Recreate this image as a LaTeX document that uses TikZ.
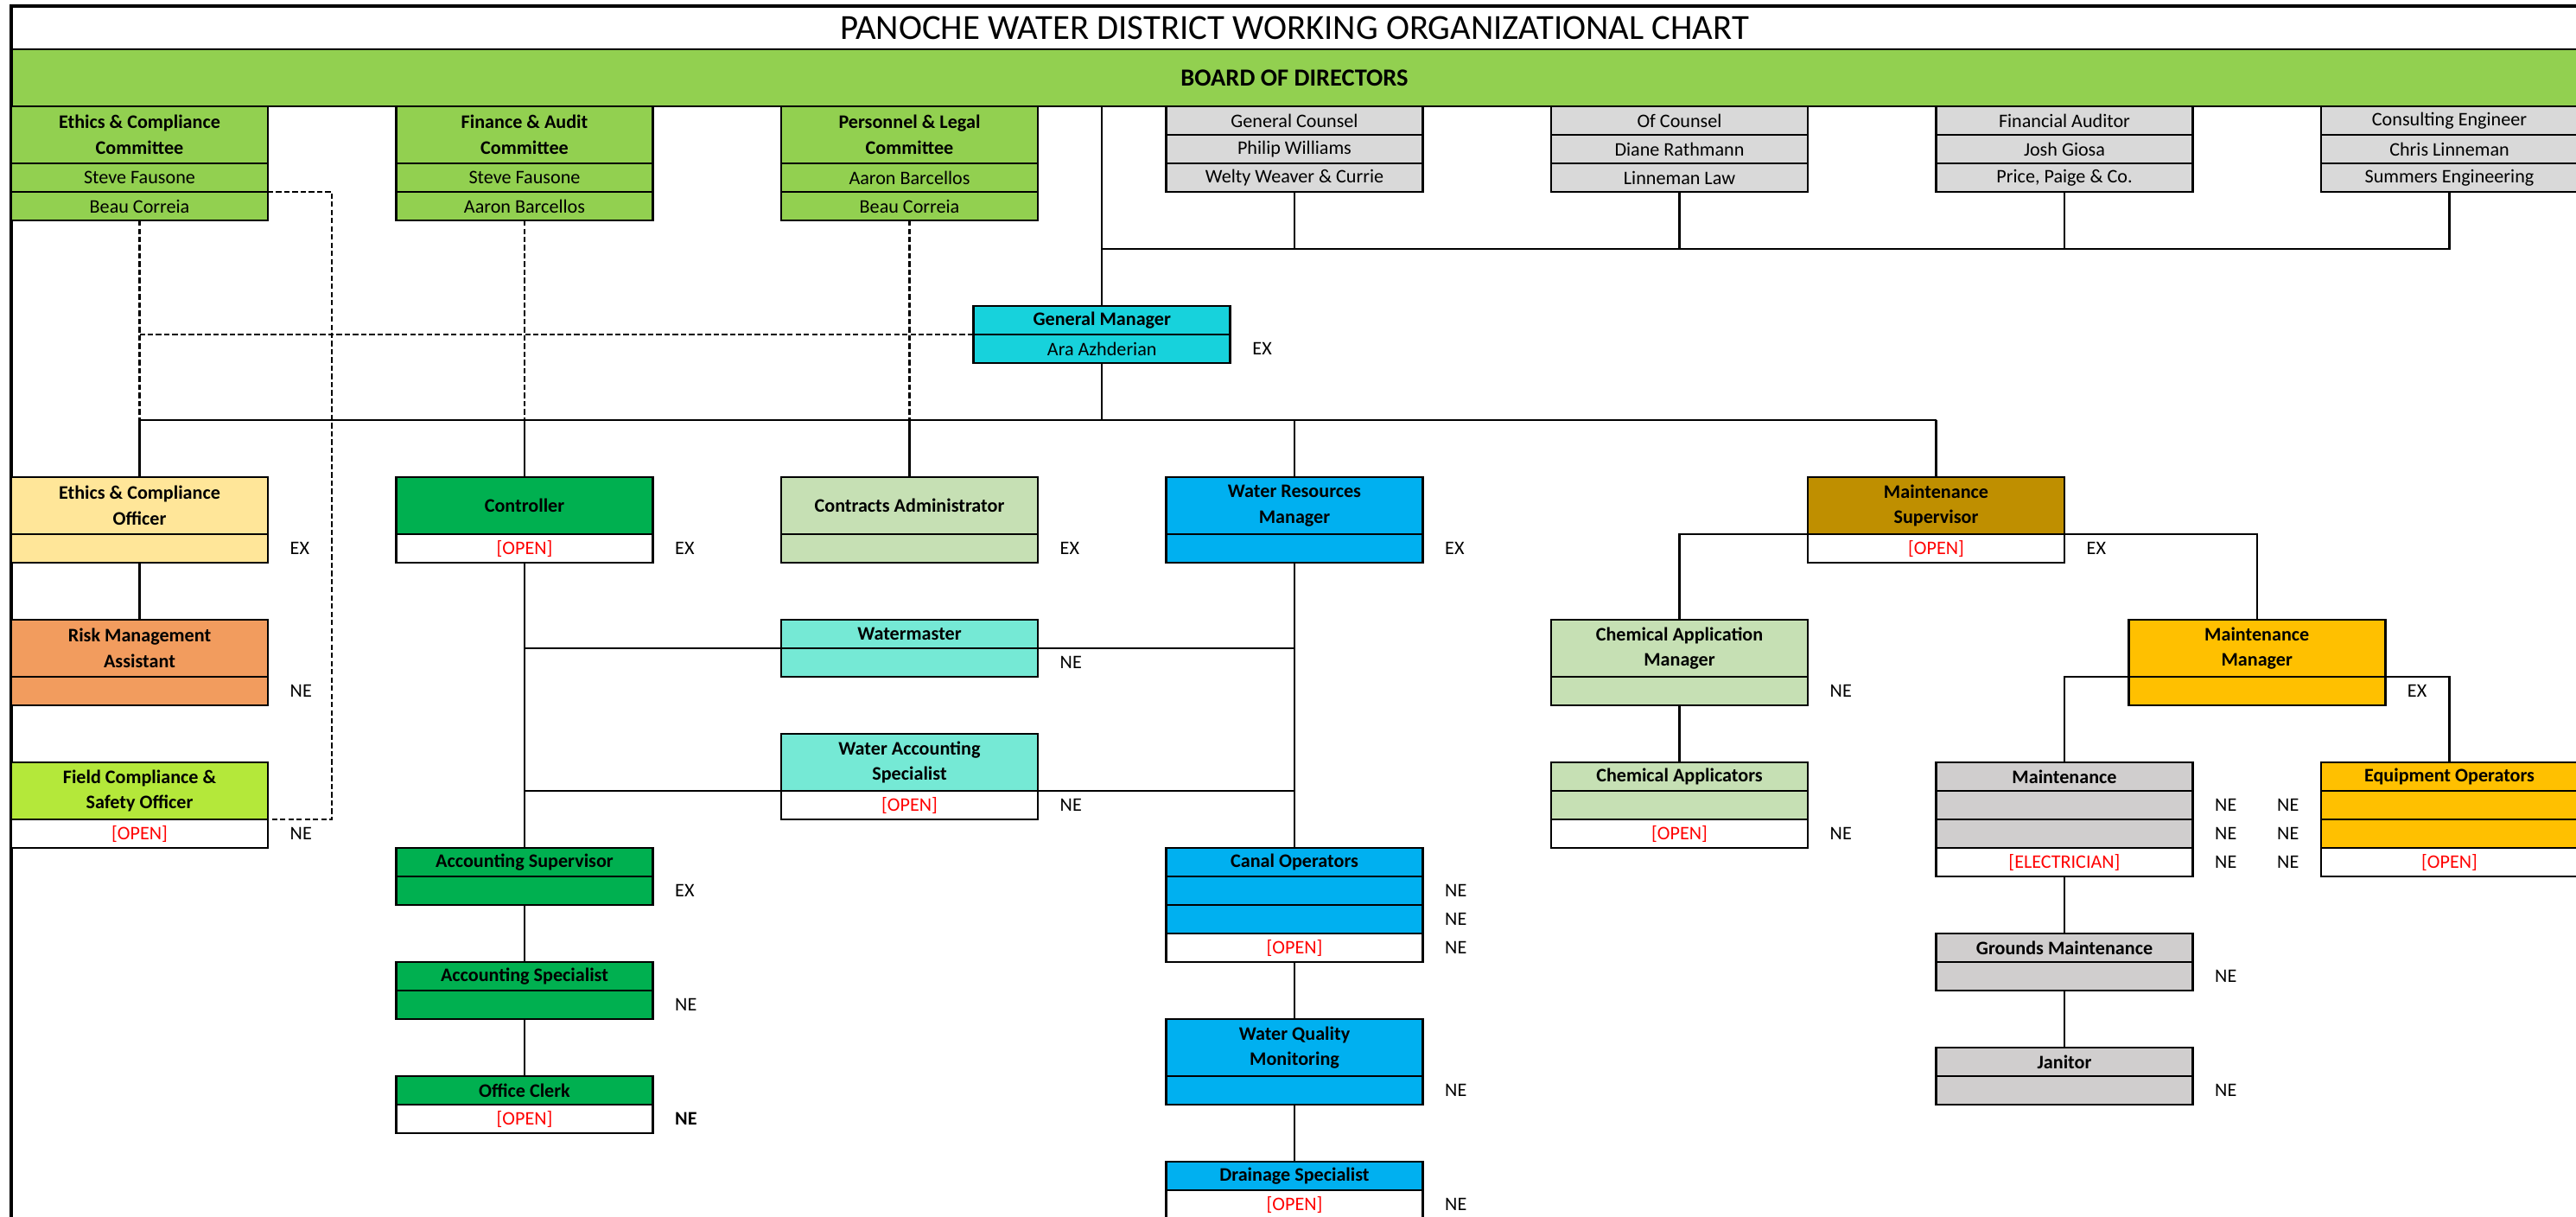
\documentclass[tikz,border=0pt]{standalone}
\usepackage{fontspec}
\setmainfont{Carlito}
\usepackage{tikz}
\usetikzlibrary{positioning}

\definecolor{boardgreen}{HTML}{92D050}
\definecolor{consgray}{HTML}{D9D9D9}
\definecolor{mntgray}{HTML}{D0CECE}
\definecolor{gmteal}{HTML}{17D2DC}
\definecolor{ecoyellow}{HTML}{FFE699}
\definecolor{riskorange}{HTML}{F29C5E}
\definecolor{fieldlime}{HTML}{B4E83A}
\definecolor{acctgreen}{HTML}{00B050}
\definecolor{sagegreen}{HTML}{C6E0B4}
\definecolor{waterblue}{HTML}{00B0F0}
\definecolor{aquateal}{HTML}{75E9D5}
\definecolor{supgold}{HTML}{BF8F00}
\definecolor{mgramber}{HTML}{FFC000}

\newcommand\cellfont{\fontsize{6.3}{8.4}\selectfont}
\newcommand\open{\textcolor{red}{[OPEN]}}

\tikzset{
    cell/.style={draw, line width=0.8pt, minimum width=2.97cm, minimum height=0.33cm, inner sep=0pt, outer sep=0pt, align=center, font=\cellfont}, % one spreadsheet row of a box
    head/.style={cell, font=\cellfont\bfseries, anchor=north west}, % the job title part
    tag/.style={inner sep=0pt, font=\cellfont}, % EX / NE marks
    link/.style={line width=0.7pt}, % reporting lines
    dotlink/.style={line width=0.7pt, dash pattern=on 1.8pt off 0.9pt}, % committee lines
    frame/.style={line width=1.2pt},
}

% title part of a box: name, column, row, rows high, colour, text
\newcommand\jobhead[6]{\node[head, fill=#5, minimum height=#4*0.33cm] (#1) at (#2,#3) {#6};}
% one more row under a node: name, node above, colour, text
\newcommand\jobslot[4]{\node[cell, fill=#3, anchor=north] (#1) at (#2.south) {#4};}

\begin{document}
\begin{tikzpicture}[x=1.485cm, y=-0.33cm]
\useasboundingbox (-0.08754,-3.7273) rectangle (19.9865,38.909);
\clip (-0.08754,-3.7273) rectangle (19.9865,38.909);

\node[draw, line width=0.8pt, outer sep=0pt, anchor=north west, minimum width=29.7cm, minimum height=0.5cm, inner sep=0pt, font=\fontsize{11.6}{13}\selectfont] (title) at (0,-3.515) {PANOCHE WATER DISTRICT WORKING ORGANIZATIONAL CHART};
\node[draw, line width=0.8pt, outer sep=0pt, fill=boardgreen, anchor=north west, minimum width=29.7cm, minimum height=0.66cm, inner sep=0pt, font=\fontsize{8.1}{9}\selectfont\bfseries] (board) at (0,-2) {BOARD OF DIRECTORS};
\coordinate (bottom) at (0,39);
\draw[frame] (title.north east) -- (title.north west) -- (bottom);

% committees
\jobhead{ethcom}{0}{0}{2}{boardgreen}{Ethics \& Compliance\\Committee}
\jobslot{ethcom1}{ethcom}{boardgreen}{Steve Fausone}
\jobslot{ethcom2}{ethcom1}{boardgreen}{Beau Correia}
\jobhead{fincom}{3}{0}{2}{boardgreen}{Finance \& Audit\\Committee}
\jobslot{fincom1}{fincom}{boardgreen}{Steve Fausone}
\jobslot{fincom2}{fincom1}{boardgreen}{Aaron Barcellos}
\jobhead{percom}{6}{0}{2}{boardgreen}{Personnel \& Legal\\Committee}
\jobslot{percom1}{percom}{boardgreen}{Aaron Barcellos}
\jobslot{percom2}{percom1}{boardgreen}{Beau Correia}

% consultants
\node[cell, fill=consgray, anchor=north west] (gc) at (9,0) {General Counsel};
\jobslot{gc1}{gc}{consgray}{Philip Williams}
\jobslot{gc2}{gc1}{consgray}{Welty Weaver \& Currie}
\node[cell, fill=consgray, anchor=north west] (oc) at (12,0) {Of Counsel};
\jobslot{oc1}{oc}{consgray}{Diane Rathmann}
\jobslot{oc2}{oc1}{consgray}{Linneman Law}
\node[cell, fill=consgray, anchor=north west] (fa) at (15,0) {Financial Auditor};
\jobslot{fa1}{fa}{consgray}{Josh Giosa}
\jobslot{fa2}{fa1}{consgray}{Price, Paige \& Co.}
\node[cell, fill=consgray, anchor=north west] (ce) at (18,0) {Consulting Engineer};
\jobslot{ce1}{ce}{consgray}{Chris Linneman}
\jobslot{ce2}{ce1}{consgray}{Summers Engineering}

% general manager
\jobhead{gm}{7.5}{7}{1}{gmteal}{General Manager}
\jobslot{gm1}{gm}{gmteal}{Ara Azhderian}
\node[tag, right=0.25cm of gm1] {EX};

% ethics side
\jobhead{ethoff}{0}{13}{2}{ecoyellow}{Ethics \& Compliance\\Officer}
\jobslot{ethoff1}{ethoff}{ecoyellow}{}
\node[tag, right=0.25cm of ethoff1] {EX};
\jobhead{risk}{0}{18}{2}{riskorange}{Risk Management\\Assistant}
\jobslot{risk1}{risk}{riskorange}{}
\node[tag, right=0.25cm of risk1] {NE};
\jobhead{fcso}{0}{23}{2}{fieldlime}{Field Compliance \&\\Safety Officer}
\jobslot{fcso1}{fcso}{white}{\open}
\node[tag, right=0.25cm of fcso1] {NE};

% finance side
\jobhead{ctrl}{3}{13}{2}{acctgreen}{Controller}
\jobslot{ctrl1}{ctrl}{white}{\open}
\node[tag, right=0.25cm of ctrl1] {EX};
\jobhead{asup}{3}{26}{1}{acctgreen}{Accounting Supervisor}
\jobslot{asup1}{asup}{acctgreen}{}
\node[tag, right=0.25cm of asup1] {EX};
\jobhead{aspc}{3}{30}{1}{acctgreen}{Accounting Specialist}
\jobslot{aspc1}{aspc}{acctgreen}{}
\node[tag, right=0.25cm of aspc1] {NE};
\jobhead{clerk}{3}{34}{1}{acctgreen}{Office Clerk}
\jobslot{clerk1}{clerk}{white}{\open}
\node[tag, font=\cellfont\bfseries, right=0.25cm of clerk1] {NE};

% contracts and water accounts
\jobhead{cadm}{6}{13}{2}{sagegreen}{Contracts Administrator}
\jobslot{cadm1}{cadm}{sagegreen}{}
\node[tag, right=0.25cm of cadm1] {EX};
\jobhead{wmst}{6}{18}{1}{aquateal}{Watermaster}
\jobslot{wmst1}{wmst}{aquateal}{}
\node[tag, right=0.25cm of wmst1] {NE};
\jobhead{was}{6}{22}{2}{aquateal}{Water Accounting\\Specialist}
\jobslot{was1}{was}{white}{\open}
\node[tag, right=0.25cm of was1] {NE};

% water resources
\jobhead{wrm}{9}{13}{2}{waterblue}{Water Resources\\Manager}
\jobslot{wrm1}{wrm}{waterblue}{}
\node[tag, right=0.25cm of wrm1] {EX};
\jobhead{canal}{9}{26}{1}{waterblue}{Canal Operators}
\jobslot{canal1}{canal}{waterblue}{}
\jobslot{canal2}{canal1}{waterblue}{}
\jobslot{canal3}{canal2}{white}{\open}
\node[tag, right=0.25cm of canal1] {NE};
\node[tag, right=0.25cm of canal2] {NE};
\node[tag, right=0.25cm of canal3] {NE};
\jobhead{wqm}{9}{32}{2}{waterblue}{Water Quality\\Monitoring}
\jobslot{wqm1}{wqm}{waterblue}{}
\node[tag, right=0.25cm of wqm1] {NE};
\jobhead{drain}{9}{37}{1}{waterblue}{Drainage Specialist}
\jobslot{drain1}{drain}{white}{\open}
\node[tag, right=0.25cm of drain1] {NE};

% maintenance
\jobhead{msup}{14}{13}{2}{supgold}{Maintenance\\Supervisor}
\jobslot{msup1}{msup}{white}{\open}
\node[tag, right=0.25cm of msup1] {EX};
\jobhead{cam}{12}{18}{2}{sagegreen}{Chemical Application\\Manager}
\jobslot{cam1}{cam}{sagegreen}{}
\node[tag, right=0.25cm of cam1] {NE};
\jobhead{capp}{12}{23}{1}{sagegreen}{Chemical Applicators}
\jobslot{capp1}{capp}{sagegreen}{}
\jobslot{capp2}{capp1}{white}{\open}
\node[tag, right=0.25cm of capp2] {NE};
\jobhead{mmgr}{16.5}{18}{2}{mgramber}{Maintenance\\Manager}
\jobslot{mmgr1}{mmgr}{mgramber}{}
\node[tag, right=0.25cm of mmgr1] {EX};
\jobhead{mnt}{15}{23}{1}{mntgray}{Maintenance}
\jobslot{mnt1}{mnt}{mntgray}{}
\jobslot{mnt2}{mnt1}{mntgray}{}
\jobslot{mnt3}{mnt2}{white}{\textcolor{red}{[ELECTRICIAN]}}
\node[tag, right=0.25cm of mnt1] {NE};
\node[tag, right=0.25cm of mnt2] {NE};
\node[tag, right=0.25cm of mnt3] {NE};
\jobhead{eqop}{18}{23}{1}{mgramber}{Equipment Operators}
\jobslot{eqop1}{eqop}{mgramber}{}
\jobslot{eqop2}{eqop1}{mgramber}{}
\jobslot{eqop3}{eqop2}{white}{\open}
\node[tag, left=0.25cm of eqop1] {NE};
\node[tag, left=0.25cm of eqop2] {NE};
\node[tag, left=0.25cm of eqop3] {NE};
\jobhead{grnd}{15}{29}{1}{mntgray}{Grounds Maintenance}
\jobslot{grnd1}{grnd}{mntgray}{}
\node[tag, right=0.25cm of grnd1] {NE};
\jobhead{jan}{15}{33}{1}{mntgray}{Janitor}
\jobslot{jan1}{jan}{mntgray}{}
\node[tag, right=0.25cm of jan1] {NE};

% reporting lines
\coordinate (cbus) at (8.5,5);
\coordinate (bus) at (0,11);
\draw[link]
    (board.south -| gm.north) -- (gm.north)
    (gc2.south) -- (gc2.south |- cbus)
    (oc2.south) -- (oc2.south |- cbus)
    (fa2.south) -- (fa2.south |- cbus)
    (cbus) -| (ce2.south)
    (gm1.south) -- (gm1.south |- bus)
    (ethoff.north |- bus) -- (msup.north |- bus)
    (ethoff.north |- bus) -- (ethoff.north)
    (ctrl.north |- bus) -- (ctrl.north)
    (cadm.north |- bus) -- (cadm.north)
    (wrm.north |- bus) -- (wrm.north)
    (msup.north |- bus) -- (msup.north)
    (ethoff1.south) -- (risk.north)
    (ctrl1.south) -- (asup.north)
    (ctrl1.south |- wmst1.north) -- (wrm1.south |- wmst1.north)
    (ctrl1.south |- was1.north) -- (wrm1.south |- was1.north)
    (asup1.south) -- (aspc.north)
    (aspc1.south) -- (clerk.north)
    (wrm1.south) -- (canal.north)
    (canal3.south) -- (wqm.north)
    (wqm1.south) -- (drain.north)
    (cam.north) |- (mmgr.north |- msup.south) -- (mmgr.north)
    (cam1.south) -- (capp.north)
    (mnt.north) |- (eqop.north |- mmgr.south) -- (eqop.north)
    (mnt3.south) -- (grnd.north)
    (grnd1.south) -- (jan.north);
\draw[dotlink]
    (ethcom2.south) -- (ethcom2.south |- bus)
    (fincom2.south) -- (fincom2.south |- bus)
    (percom2.south) -- (percom2.south |- bus)
    (ethcom2.south |- gm.south west) -- (gm.south west)
    (ethcom1.south east) -- ++(0.5,0) |- (fcso.south east);
\end{tikzpicture}
\end{document}
